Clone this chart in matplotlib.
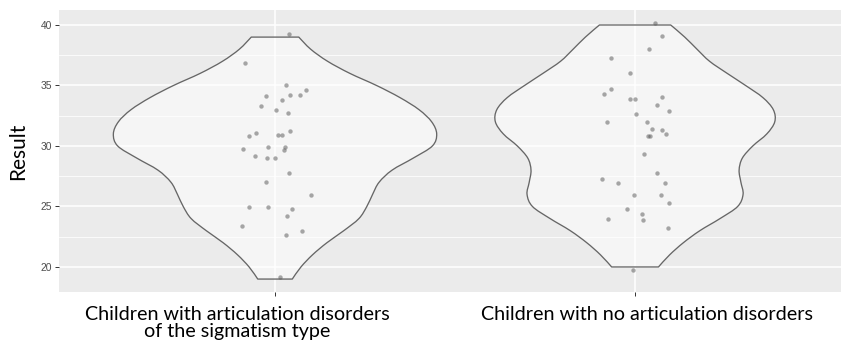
import numpy as np
import matplotlib.pyplot as plt
from matplotlib.path import Path
from matplotlib.patches import PathPatch
from matplotlib.transforms import blended_transform_factory

# ---------------- data ----------------
groups = ["Children with articulation disorders\nof the sigmatism type",
          "Children with no articulation disorders"]
# the category names were placed by hand, a little off the tick centres
label_x = [0.896, 2.033]

# violin outline: half-width (x units) at each score level
scores_g1 = np.arange(19, 40)
hw_g1 = [0.048, 0.072, 0.104, 0.144, 0.191, 0.233, 0.255, 0.271, 0.289, 0.325,
         0.384, 0.437, 0.449, 0.435, 0.400, 0.347, 0.282, 0.208, 0.146, 0.099, 0.066]
scores_g2 = np.arange(20, 41)
hw_g2 = [0.065, 0.096, 0.134, 0.180, 0.236, 0.285, 0.300, 0.294, 0.289, 0.298,
         0.327, 0.366, 0.388, 0.384, 0.355, 0.307, 0.256, 0.207, 0.172, 0.138, 0.099]

# jittered points: result and horizontal offset from the group centre
res_g1 = [39.23, 36.88, 35.04, 34.65, 34.24, 34.19, 34.11, 33.83, 33.33, 33.00,
          32.75, 31.26, 31.07, 30.85, 30.91, 30.91, 29.92, 29.92, 29.73, 29.64,
          29.17, 28.98, 29.01, 27.74, 27.05, 25.93, 24.96, 24.96, 24.77, 24.21,
          23.36, 22.95, 22.64, 19.15]
jit_g1 = [0.038, -0.082, 0.030, 0.086, 0.041, 0.069, -0.024, 0.019, -0.039, 0.002,
          0.036, 0.042, -0.052, -0.072, 0.008, 0.020, -0.019, 0.028, -0.089, 0.026,
          -0.057, -0.021, -0.001, 0.039, -0.024, 0.099, -0.073, -0.020, 0.046, 0.032,
          -0.092, 0.076, 0.030, 0.013]
res_g2 = [40.19, 39.12, 38.02, 37.27, 36.03, 34.71, 34.32, 33.91, 33.91, 34.07,
          33.36, 32.87, 32.62, 32.01, 31.96, 31.38, 31.30, 31.02, 30.85, 30.85,
          29.34, 27.79, 27.30, 26.92, 26.94, 25.98, 25.93, 25.29, 24.77, 24.36,
          23.97, 23.86, 23.22, 19.78]
jit_g2 = [0.055, 0.074, 0.040, -0.068, -0.013, -0.068, -0.087, -0.013, -0.001, 0.076,
          0.062, 0.095, 0.003, -0.079, 0.032, 0.047, 0.074, 0.085, 0.037, 0.041,
          0.024, 0.061, -0.092, -0.047, 0.082, -0.003, 0.073, 0.093, -0.023, 0.019,
          -0.076, 0.021, 0.092, -0.006]

y_major = [20, 25, 30, 35, 40]
y_minor = [22.5, 27.5, 32.5, 37.5]


def smooth_side(pts):
    """Catmull-Rom through the read outline points, as cubic Bezier pieces."""
    p = np.vstack([pts[0], pts, pts[-1]])
    verts, codes = [], []
    for i in range(1, len(p) - 2):
        c1 = p[i] + (p[i + 1] - p[i - 1]) / 6
        c2 = p[i + 1] - (p[i + 2] - p[i]) / 6
        verts += [c1, c2, p[i + 1]]
        codes += [Path.CURVE4] * 3
    return verts, codes


def violin_path(pos, sc, hw):
    left = np.column_stack([pos - hw, sc])
    right = np.column_stack([pos + hw, sc])[::-1]
    verts, codes = [left[0]], [Path.MOVETO]
    v, c = smooth_side(left)
    verts += v; codes += c
    verts.append(right[0]); codes.append(Path.LINETO)
    v, c = smooth_side(right)
    verts += v; codes += c
    verts.append(left[0]); codes.append(Path.CLOSEPOLY)
    return Path(np.array(verts), codes)


# ---------------- plot ----------------
fig = plt.figure(figsize=(8.41, 3.49), dpi=100)
ax = fig.add_axes([59/841, 1 - 292/349, 1 - 59/841, 282/349])
ax.set_facecolor('#ebebeb')
for s in ax.spines.values():
    s.set_visible(False)

ax.set_xlim(0.4, 2.572)
ax.set_ylim(17.93, 41.24)

for v in y_major:
    ax.axhline(v, color='white', lw=1.1, zorder=0.5)
for v in y_minor:
    ax.axhline(v, color='white', lw=0.55, zorder=0.5)
for p in (1, 2):
    ax.axvline(p, color='white', lw=1.1, zorder=0.5)

violins = [(1, scores_g1, np.array(hw_g1)), (2, scores_g2, np.array(hw_g2))]
for pos, sc, hw in violins:
    path = violin_path(pos, sc, hw)
    ax.add_patch(PathPatch(path, facecolor='white', alpha=0.55,
                           edgecolor='none', zorder=1))
    ax.add_patch(PathPatch(path, facecolor='none', edgecolor='#666666',
                           lw=0.95, joinstyle='round', zorder=2))

for pos, res, jit in [(1, res_g1, jit_g1), (2, res_g2, jit_g2)]:
    ax.scatter(pos + np.array(jit), res, s=10, color='#555555', alpha=0.5,
               linewidths=0, zorder=3)

ax.set_yticks(y_major)
ax.set_yticklabels([str(v) for v in y_major], fontsize=7.4, color='#4d4d4d',
                   family='Liberation Sans')
ax.set_xticks([1, 2])
ax.set_xticklabels(['', ''])
ax.tick_params(axis='both', color='#333333', length=3.2, width=0.7)
ax.tick_params(axis='y', pad=2)

tr = blended_transform_factory(ax.transData, ax.transAxes)
for x, name in zip(label_x, groups):
    ax.text(x, -0.048, name, transform=tr, ha='center', va='top',
            multialignment='center', fontsize=14.2, family='Lato',
            color='black', linespacing=1.0)

ax.set_ylabel('Result', fontsize=15, family='Lato', labelpad=9)

fig.savefig('out.png', dpi=100)
